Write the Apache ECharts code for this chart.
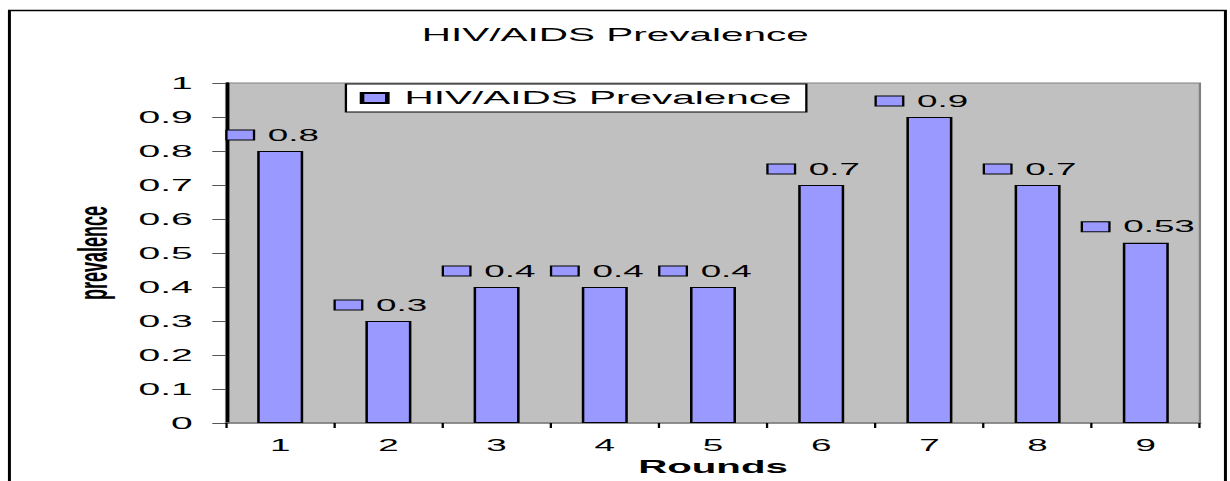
<!DOCTYPE html>
<html>
<head>
<meta charset="utf-8">
<script src="https://cdn.jsdelivr.net/npm/echarts@6/dist/echarts.min.js"></script>
<style>
html,body{margin:0;padding:0;background:#fff;overflow:hidden;}
#wrap{width:1230px;height:481px;overflow:hidden;position:relative;}
#chart{width:535px;height:481px;transform:scaleX(2.3);transform-origin:0 0;position:absolute;left:0;top:0;}
</style>
</head>
<body>
<div id="wrap"><div id="chart"></div></div>
<script>
var titleText = 'HIV/AIDS Prevalence';
var seriesName = 'HIV/AIDS Prevalence';
var rounds = ['1', '2', '3', '4', '5', '6', '7', '8', '9'];
var prevalence = [0.8, 0.3, 0.4, 0.4, 0.4, 0.7, 0.9, 0.7, 0.53];
var yAxisTitle = 'prevalence';
var xAxisTitle = 'Rounds';

var FONT = '"Liberation Sans", Arial, sans-serif';
var chart = echarts.init(document.getElementById('chart'), null, {renderer: 'svg'});
chart.setOption({
  backgroundColor: '#ffffff',
  animation: false,
  title: {
    text: titleText,
    left: 'center',
    top: 26,
    padding: 0,
    textStyle: {fontFamily: FONT, fontSize: 17.6, fontWeight: 'normal', color: '#000'}
  },
  legend: {
    left: 150.4,
    top: 84,
    orient: 'horizontal',
    backgroundColor: '#ffffff',
    borderColor: '#000',
    borderWidth: 1,
    padding: [5, 6.5, 5, 6],
    itemWidth: 11,
    itemHeight: 10,
    icon: 'rect',
    textStyle: {fontFamily: FONT, fontSize: 17.6, color: '#000', padding: [0, 0, 0, 2.5]},
    data: [seriesName]
  },
  grid: {
    left: 98.3,
    right: 13.3,
    top: 83,
    bottom: 53.5,
    show: true,
    backgroundColor: '#C0C0C0',
    borderColor: '#808080',
    borderWidth: 1
  },
  xAxis: {
    type: 'category',
    data: rounds,
    name: xAxisTitle,
    nameLocation: 'middle',
    nameGap: 35,
    nameTextStyle: {fontFamily: FONT, fontSize: 17.5, fontWeight: 'bold', color: '#000'},
    axisLine: {lineStyle: {color: '#808080', width: 1.5}},
    axisTick: {show: true, length: 5, lineStyle: {color: '#000', width: 1}},
    axisLabel: {fontFamily: FONT, fontSize: 16, color: '#000', margin: 14},
    splitLine: {show: false}
  },
  yAxis: {
    type: 'value',
    min: 0,
    max: 1,
    interval: 0.1,
    name: yAxisTitle,
    nameLocation: 'middle',
    nameRotate: 90,
    nameGap: 47,
    nameTextStyle: {fontFamily: FONT, fontSize: 18, fontWeight: 'bold', color: '#000'},
    axisLine: {show: true, lineStyle: {color: '#000', width: 1.5}},
    axisTick: {show: true, length: 6, lineStyle: {color: '#555', width: 1}},
    axisLabel: {fontFamily: FONT, fontSize: 17, color: '#000', margin: 14.5},
    splitLine: {show: false}
  },
  series: [{
    name: seriesName,
    type: 'bar',
    data: prevalence,
    barWidth: 20,
    itemStyle: {color: '#9999FF', borderColor: '#000', borderWidth: 1.1},
    label: {
      show: true,
      position: 'top',
      distance: 7,
      offset: [-3, 0],
      formatter: function (p) { return '{k| }{v|' + p.value + '}'; },
      rich: {
        k: {width: 11, height: 9, backgroundColor: '#9999FF', borderColor: '#000', borderWidth: 1, verticalAlign: 'middle', fontSize: 8},
        v: {fontFamily: FONT, fontSize: 16, color: '#000', padding: [0, 0, 0, 6.5], lineHeight: 18, verticalAlign: 'middle'}
      }
    }
  }],
  graphic: [{
    type: 'rect',
    shape: {x: 4.1, y: 10.5, width: 528.7, height: 490},
    style: {fill: 'none', stroke: '#000', lineWidth: 1.3},
    silent: true,
    z: 100
  }]
});
</script>
</body>
</html>
